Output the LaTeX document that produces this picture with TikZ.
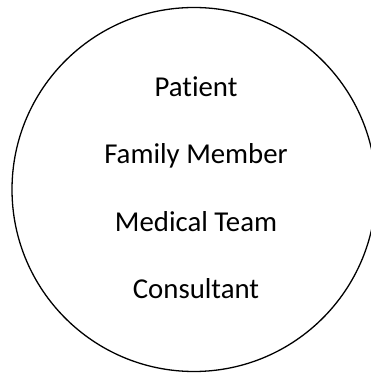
\documentclass[tikz,border=0pt]{standalone}
\usepackage{fontspec}
\setmainfont[Ligatures=NoCommon]{Carlito}
\usepackage{tikz}
\usetikzlibrary{positioning}

\begin{document}
\begin{tikzpicture}[
    x=1pt,
    y=1pt,
    font=\fontsize{28.8}{32}\selectfont,
    group/.style={
        draw=black,
        line width=1.3pt,
        circle,
        minimum size=364pt,
        inner sep=0pt
    },
    member/.style={
        anchor=base,
        inner sep=0pt
    }
]

\useasboundingbox (0,0) rectangle (371,374);
\clip (0,0) rectangle (371,374);

% outer circle
\node[group] (circ) at (194,184.5) {};

% names inside
\node[member] (patient) at (196,277.3) {Patient};
\node[member] (family) at (196,210) {Family Member};
\node[member] (medical) at (196,142) {Medical Team};
\node[member] (consult) at (196,75) {Consultant};

\end{tikzpicture}
\end{document}
